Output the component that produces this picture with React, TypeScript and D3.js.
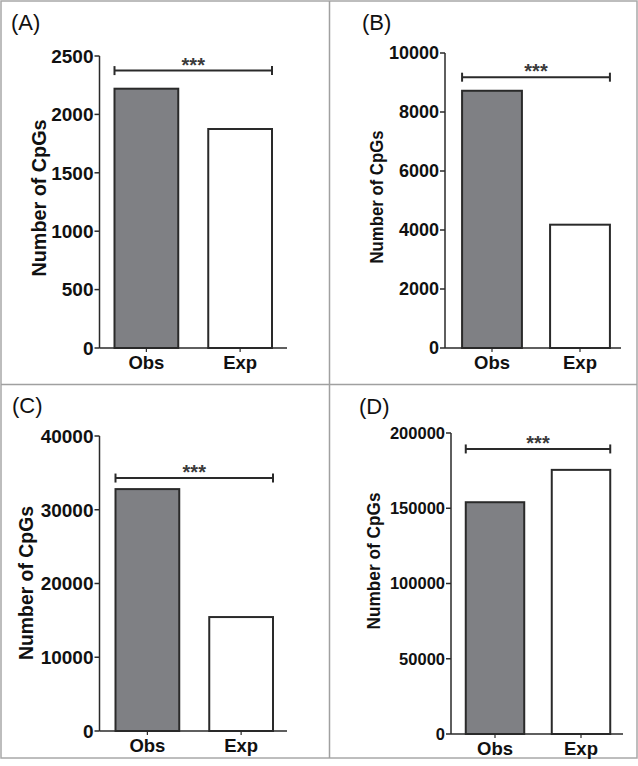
import React from "react";
import * as d3 from "d3";

const categories = ["Obs", "Exp"];
const panelLabels = ["(A)", "(B)", "(C)", "(D)"];
const valuesA = [2220, 1875];
const valuesB = [8720, 4180];
const valuesC = [32800, 15450];
const valuesD = [154000, 175500];
const yMaxes = [2500, 10000, 40000, 200000];
const tickSteps = [500, 2000, 10000, 50000];
const sigLevels = [2375, 9180, 34300, 189400];
const sigText = "***";
const yTitle = "Number of CpGs";

const panelValues = [valuesA, valuesB, valuesC, valuesD];

// layout (positions/styles only)
const layouts = [
  { axisX: 99.5, yBottom: 348, yTop: 56, xEnd: 287, lx: 11, ly: 30, tx: 39, ty: 198, tLen: 157, tFs: 21, fs: 19, shift: 0 },
  { axisX: 445, yBottom: 348, yTop: 53, xEnd: 621, lx: 362, ly: 30, tx: 376, ty: 197, tLen: 133, tFs: 19, fs: 18, shift: 3 },
  { axisX: 99.5, yBottom: 731, yTop: 436, xEnd: 287, lx: 12, ly: 413, tx: 26, ty: 583, tLen: 154, tFs: 21, fs: 19, shift: 1 },
  { axisX: 451, yBottom: 734, yTop: 433, xEnd: 623, lx: 359, ly: 414, tx: 373, ty: 561, tLen: 137, tFs: 19, fs: 16.5, shift: 1 },
];

const FONT = "'Liberation Sans', Arial, sans-serif";
const INK = "#2a2a2a";

function Panel({ idx }: { idx: number }) {
  const L = layouts[idx];
  const vals = panelValues[idx];
  const y = d3.scaleLinear().domain([0, yMaxes[idx]]).range([L.yBottom, L.yTop]);
  const x = d3
    .scalePoint<string>()
    .domain(categories)
    .range([L.axisX + L.shift, L.xEnd + L.shift])
    .padding(0.5);
  const bw = (L.xEnd - L.axisX) * 0.34;
  const ticks = d3.range(0, yMaxes[idx] + 1, tickSteps[idx]);
  const sx1 = (x(categories[0]) as number) - bw / 2;
  const sx2 = (x(categories[1]) as number) + bw / 2;
  const sy = y(sigLevels[idx]);
  return (
    <g>
      <text x={L.lx} y={L.ly} fontSize={22} fontFamily={FONT} fill="#111">
        {panelLabels[idx]}
      </text>
      {categories.map((c, i) => (
        <rect
          key={c}
          x={(x(c) as number) - bw / 2}
          y={y(vals[i])}
          width={bw}
          height={y(0) - y(vals[i])}
          fill={i === 0 ? "#7f8084" : "#ffffff"}
          stroke={INK}
          strokeWidth={2}
        />
      ))}
      <line x1={L.axisX} x2={L.axisX} y1={L.yTop} y2={L.yBottom} stroke={INK} strokeWidth={1.5} />
      {ticks.map((t) => (
        <g key={t}>
          <line x1={L.axisX - 5} x2={L.axisX} y1={y(t)} y2={y(t)} stroke={INK} strokeWidth={1.5} />
          <text
            x={L.axisX - 6}
            y={y(t)}
            dy="0.36em"
            textAnchor="end"
            fontSize={L.fs}
            fontWeight="bold"
            fontFamily={FONT}
            fill="#111"
          >
            {t}
          </text>
        </g>
      ))}
      <line x1={L.axisX} x2={L.xEnd} y1={L.yBottom} y2={L.yBottom} stroke={INK} strokeWidth={1.5} />
      {categories.map((c) => (
        <g key={c}>
          <line x1={x(c)} x2={x(c)} y1={L.yBottom} y2={L.yBottom + 4} stroke={INK} strokeWidth={1.2} />
          <text
            x={x(c)}
            y={L.yBottom + 21}
            textAnchor="middle"
            fontSize={18.5}
            fontWeight="bold"
            fontFamily={FONT}
            fill="#111"
          >
            {c}
          </text>
        </g>
      ))}
      <text
        transform={`translate(${L.tx},${L.ty}) rotate(-90)`}
        textAnchor="middle"
        dy="0.35em"
        fontSize={L.tFs}
        fontWeight="bold"
        fontFamily={FONT}
        fill="#111"
        textLength={L.tLen}
        lengthAdjust="spacingAndGlyphs"
      >
        {yTitle}
      </text>
      <line x1={sx1} x2={sx2} y1={sy} y2={sy} stroke={INK} strokeWidth={2} />
      <line x1={sx1} x2={sx1} y1={sy - 4.5} y2={sy + 4.5} stroke={INK} strokeWidth={2} />
      <line x1={sx2} x2={sx2} y1={sy - 4.5} y2={sy + 4.5} stroke={INK} strokeWidth={2} />
      <text
        x={(sx1 + sx2) / 2}
        y={sy + 1}
        textAnchor="middle"
        fontSize={20}
        fontWeight="bold"
        letterSpacing={0}
        fontFamily={FONT}
        fill="#3a3a3a"
      >
        {sigText}
      </text>
    </g>
  );
}

export default function App() {
  return (
    <svg
      width={638}
      height={766}
      style={{ position: "absolute", left: 0, top: 0, background: "#fff" }}
    >
      <rect x={0} y={0} width={638} height={766} fill="#fff" />
      <rect x={1} y={1} width={636} height={757} fill="none" stroke="#a8a8a8" strokeWidth={1.5} />
      <line x1={329.5} x2={329.5} y1={1} y2={758} stroke="#a0a0a0" strokeWidth={1.5} />
      <line x1={1} x2={637} y1={384.5} y2={384.5} stroke="#a0a0a0" strokeWidth={1.5} />
      {[0, 1, 2, 3].map((i) => (
        <Panel key={i} idx={i} />
      ))}
    </svg>
  );
}
